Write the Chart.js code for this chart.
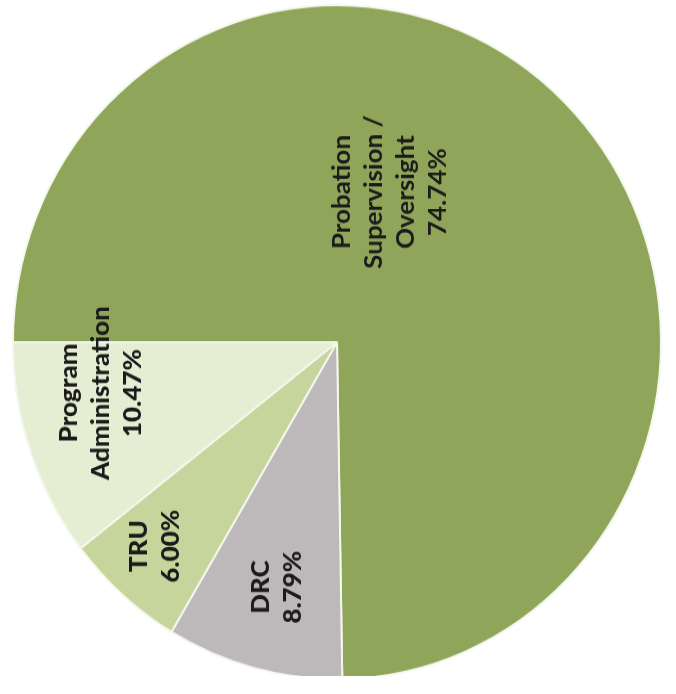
<!DOCTYPE html>
<html>
<head>
<meta charset="utf-8">
<script src="https://cdn.jsdelivr.net/npm/chart.js@4"></script>
<style>
  html, body { margin: 0; padding: 0; background: #fff; overflow: hidden; }
  #wrap { width: 676px; height: 676px; transform: scaleY(1.04); transform-origin: 0 0; }
</style>
</head>
<body>
<div id="wrap"><canvas id="myChart" width="676" height="676"></canvas></div>
<script>
// data (slices in drawing order, clockwise from 9 o'clock)
const categories = ['Probation Supervision / Oversight', 'DRC', 'TRU', 'Program Administration'];
const labelLines = [['Probation', 'Supervision /', 'Oversight'], ['DRC'], ['TRU'], ['Program', 'Administration']];
const shares = [74.74, 8.79, 6.00, 10.47];

// look
const sliceColors = ['#8fa65a', '#bdb9bb', '#c5d59b', '#e5edd2'];
// where the label sits inside its slice: fraction of the arc, fraction of the radius
const labelAt = [[0.41, 0.475], [0.48, 0.75], [0.56, 0.825], [0.69, 0.745]];

const sliceLabels = {
  id: 'sliceLabels',
  afterDatasetsDraw(chart) {
    const ctx = chart.ctx;
    const meta = chart.getDatasetMeta(0);
    meta.data.forEach((arc, i) => {
      const p = arc.getProps(['x', 'y', 'startAngle', 'endAngle', 'outerRadius'], true);
      const a = p.startAngle + labelAt[i][0] * (p.endAngle - p.startAngle);
      const r = labelAt[i][1] * p.outerRadius;
      const lines = labelLines[i].concat([shares[i].toFixed(2) + '%']);
      const lh = 32;
      ctx.save();
      ctx.translate(p.x + Math.cos(a) * r, p.y + Math.sin(a) * r);
      ctx.rotate(-Math.PI / 2);
      ctx.font = (i === 0 ? 'bold' : '900') + ' 25px Lato';
      ctx.fillStyle = '#1b1b1b';
      ctx.textAlign = 'center';
      ctx.textBaseline = 'middle';
      lines.forEach((t, k) => {
        ctx.fillText(t, 0, (k - (lines.length - 1) / 2) * lh);
      });
      ctx.restore();
    });
  }
};

const ctx = document.getElementById('myChart');
new Chart(ctx, {
  type: 'pie',
  data: {
    labels: categories,
    datasets: [{
      data: shares,
      backgroundColor: sliceColors,
      borderColor: '#f4f7ec',
      borderWidth: 2
    }]
  },
  options: {
    responsive: false,
    animation: false,
    rotation: -90,
    layout: { padding: { left: 12, right: 14, top: 4, bottom: 22 } },
    plugins: {
      legend: { display: false },
      tooltip: { enabled: false }
    }
  },
  plugins: [sliceLabels]
});
</script>
</body>
</html>
